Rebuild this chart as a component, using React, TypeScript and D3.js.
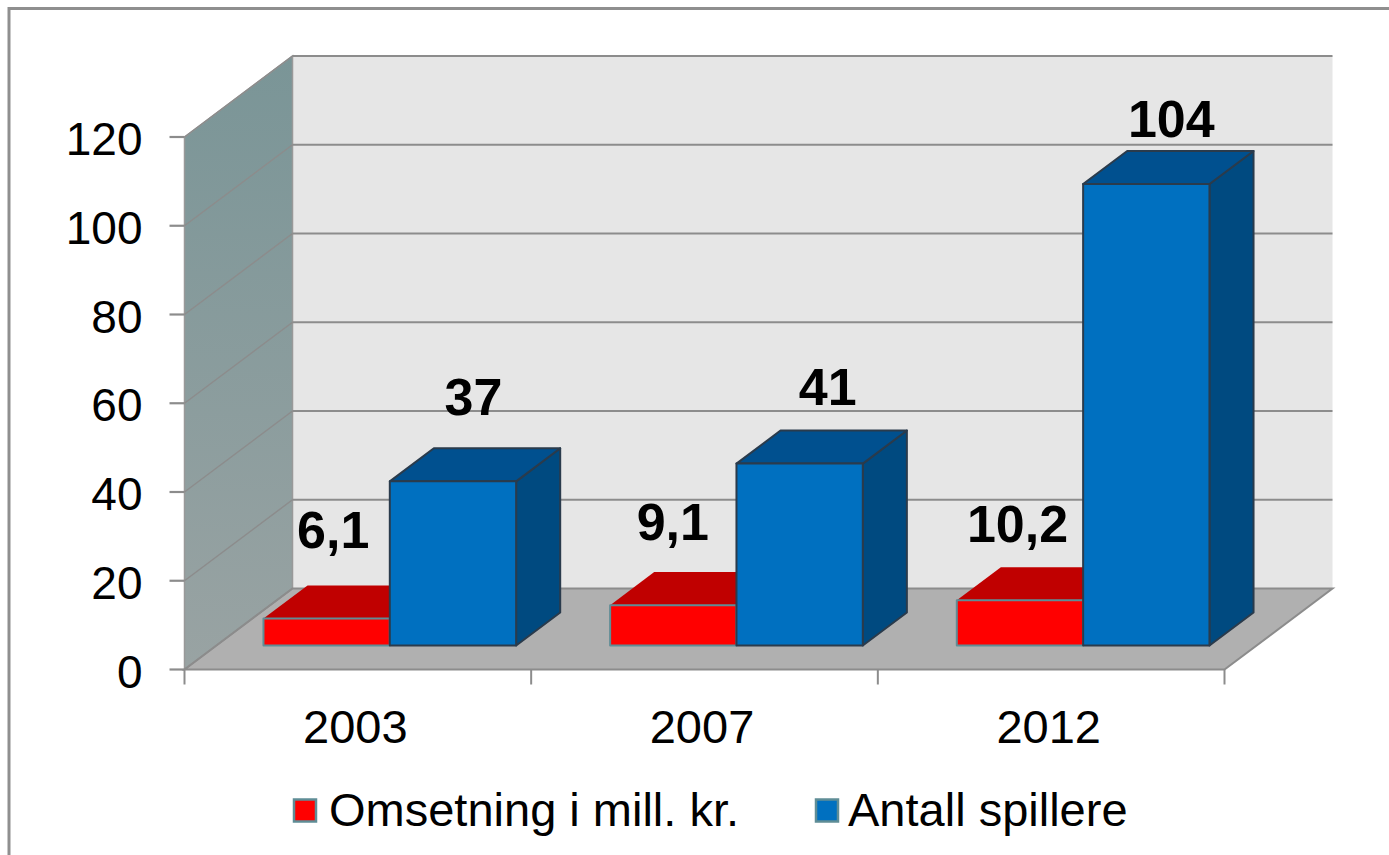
import React from 'react';
import * as d3 from 'd3';

const years = ['2003', '2007', '2012'];
const seriesNames = ['Omsetning i mill. kr.', 'Antall spillere'];
const omsetning = [6.1, 9.1, 10.2];
const spillere = [37, 41, 104];
const yTicks = [0, 20, 40, 60, 80, 100, 120];

// the labels were moved by hand in the original chart
const omsetningNudge = [[-12.5, -9], [-19.5, -4], [-21.5, 3]];
const spillereNudge = [[1.5, -5], [9, 3], [6, 14]];

const FONT = '"Liberation Sans", Arial, sans-serif';
const DEPTH_X = 108;
const DEPTH_Y = -81;
const GRID = '#8c8c8c';

const x = d3.scaleBand<string>().domain(years).range([184.5, 1224.5]);
const y = d3.scaleLinear().domain([0, 120]).range([669.5, 137]);
const inner = d3.scaleBand<string>().domain(seriesNames).range([47, x.bandwidth() - 47]);

// 3d projection: px = front x, v = value, d = depth 0..1
const pt = (px: number, v: number, d: number): [number, number] => [px + DEPTH_X * d, y(v) + DEPTH_Y * d];
const poly = (pts: [number, number][]) => d3.line()(pts) + 'Z';

const seriesStyle = [
  { values: omsetning, nudge: omsetningNudge, front: '#ff0000', top: '#c00000', side: '#a00000', stroke: '#5f8d96', topStroke: 'none' },
  { values: spillere, nudge: spillereNudge, front: '#0070c0', top: '#00508f', side: '#004a80', stroke: '#2a3b4c', topStroke: '#2a3b4c' },
];

const App: React.FC = () => {
  const d0 = 0.296;
  const d1 = 0.704;
  const [xa, xb] = x.range();
  return (
    <svg width={1389} height={855} style={{ position: 'absolute', left: 0, top: 0 }}>
      <defs>
        <linearGradient id="wall" x1="0" y1="0" x2="0" y2="1">
          <stop offset="0" stopColor="#7a9597" />
          <stop offset="1" stopColor="#99a3a3" />
        </linearGradient>
      </defs>
      <rect x={0} y={0} width={1389} height={855} fill="#fff" />
      <path d="M9,855V8.5H1389" fill="none" stroke="#8f8f8f" strokeWidth={3} />

      {/* walls and floor */}
      <path d={poly([pt(xa, 0, 1), pt(xb, 0, 1), pt(xb, 120, 1), pt(xa, 120, 1)])} fill="#e6e6e6" />
      <path d={poly([pt(xa, 0, 0), pt(xa, 0, 1), pt(xa, 120, 1), pt(xa, 120, 0)])} fill="url(#wall)" stroke="#999" strokeWidth={1.5} />
      <path d={poly([pt(xa, 0, 0), pt(xb, 0, 0), pt(xb, 0, 1), pt(xa, 0, 1)])} fill="#b0b0b0" stroke={GRID} strokeWidth={2} />

      {/* gridlines */}
      {yTicks.map((t) => (
        <g key={t} fill="none" stroke={GRID} strokeWidth={2.2}>
          {t > 0 && <path d={d3.line()([pt(xa, t, 1), pt(xb, t, 1)])!} />}
          <path d={d3.line()([pt(xa, t, 0), pt(xa, t, 1)])!} strokeWidth={1.5} />
          <path d={d3.line()([[xa - 15, y(t)], [xa, y(t)]])!} />
          <text x={xa - 42} y={y(t) + 18} textAnchor="end" fontFamily={FONT} fontSize={46} fill="#000" stroke="none">
            {t}
          </text>
        </g>
      ))}

      {/* x axis */}
      {[...years.map((c) => x(c)!), xb].map((px) => (
        <path key={px} d={d3.line()([[px, y(0)], [px, y(0) + 15]])!} stroke={GRID} strokeWidth={2} fill="none" />
      ))}
      {years.map((c) => (
        <text key={c} x={x(c)! + x.bandwidth() / 2 - 2.5} y={743} textAnchor="middle" fontFamily={FONT} fontSize={47} fill="#000">
          {c}
        </text>
      ))}

      {/* bars */}
      {years.map((c, i) =>
        seriesNames.map((s, j) => {
          const st = seriesStyle[j];
          const v = st.values[i];
          const left = x(c)! + inner(s)!;
          const right = left + inner.bandwidth();
          return (
            <g key={s + c} stroke={st.stroke} strokeWidth={2} strokeLinejoin="round">
              <path d={poly([pt(right, 0, d0), pt(right, 0, d1), pt(right, v, d1), pt(right, v, d0)])} fill={st.side} stroke={st.topStroke} />
              <path d={poly([pt(left, v, d0), pt(left, v, d1), pt(right, v, d1), pt(right, v, d0)])} fill={st.top} stroke={st.topStroke} />
              <path d={poly([pt(left, 0, d0), pt(right, 0, d0), pt(right, v, d0), pt(left, v, d0)])} fill={st.front} />
            </g>
          );
        })
      )}

      {/* data labels */}
      {years.map((c, i) =>
        seriesNames.map((s, j) => {
          const st = seriesStyle[j];
          const v = st.values[i];
          const [lx, ly] = pt(x(c)! + inner(s)! + inner.bandwidth() / 2, v, 0.5);
          return (
            <text key={s + c} x={lx - 3 + st.nudge[i][0]} y={ly - 45 + st.nudge[i][1]} textAnchor="middle" fontFamily={FONT} fontSize={52} fontWeight="bold" fill="#000">
              {String(v).replace('.', ',')}
            </text>
          );
        })
      )}

      {/* legend */}
      <rect x={294} y={799.5} width={22} height={22} fill="#ff0000" stroke="#5f8d96" strokeWidth={2.5} />
      <text x={329} y={826} fontFamily={FONT} fontSize={47} fill="#000">{seriesNames[0]}</text>
      <rect x={816} y={799.5} width={22} height={22} fill="#0070c0" stroke="#5f8d96" strokeWidth={2.5} />
      <text x={848} y={826} fontFamily={FONT} fontSize={47} fill="#000">{seriesNames[1]}</text>
    </svg>
  );
};

export default App;
